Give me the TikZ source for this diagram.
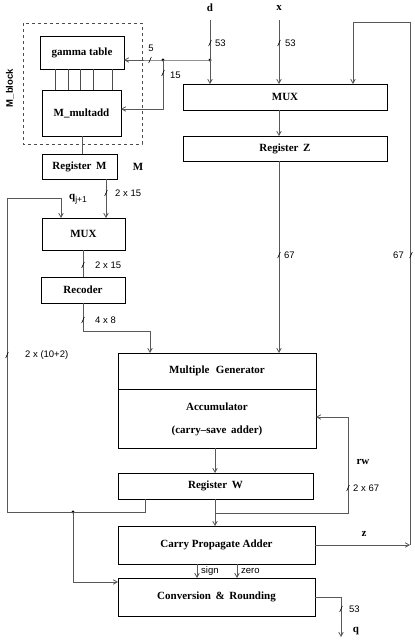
\documentclass[tikz,border=0pt]{standalone}
\usepackage{fontspec}
\setmainfont{Liberation Serif}
\setsansfont{Liberation Sans}
\usetikzlibrary{arrows.meta}
\begin{document}
\begin{tikzpicture}[x=1pt,y=-1pt,
  box/.style={draw=black,line width=1pt,inner sep=0pt,outer sep=0pt,font=\bfseries\fontsize{11}{13}\selectfont},
  conn/.style={draw=black!65,line width=0.8pt},
  arr/.style={conn,-{Straight Barb[length=4pt,width=4.5pt]}},
  lbl/.style={font=\sffamily\fontsize{9.5}{11}\selectfont,inner sep=0pt,anchor=west},
  blbl/.style={font=\bfseries\fontsize{11}{13}\selectfont,inner sep=0pt},
  dotc/.style={circle,fill=black,inner sep=0pt,minimum size=3.2pt}]
\useasboundingbox (0,0) rectangle (415,641);
% M_block
\draw[dashed,black!70,line width=0.7pt] (23,23) rectangle (142,144);
\node[font=\sffamily\bfseries\fontsize{9.5}{11}\selectfont,rotate=90,inner sep=0pt] (mblock) at (10,88) {M\_block};
% boxes
\node[box,minimum width=84pt,minimum height=33pt] (gamma) at (82,52.5) {gamma table};
\node[box,minimum width=79pt,minimum height=46pt] (multadd) at (81.5,113) {M\_multadd};
\node[box,minimum width=75pt,minimum height=25pt] (regM) at (79.5,166.5) {Register\, M};
\node[box,minimum width=204pt,minimum height=26pt] (mux1) at (285,97) {MUX};
\node[box,minimum width=204pt,minimum height=25pt] (regZ) at (285,148.5) {Register\, Z};
\node[box,minimum width=83pt,minimum height=32pt] (mux2) at (83.5,234) {MUX};
\node[box,minimum width=84pt,minimum height=26pt] (recoder) at (83,290) {Recoder};
\node[box,minimum width=198pt,minimum height=36pt] (multgen) at (217,371) {Multiple\,\, Generator};
\node[box,minimum width=198pt,minimum height=59pt] (accum) at (217,418.5) {};
\node[blbl] (acc1) at (217,407) {Accumulator};
\node[blbl] (acc2) at (217,431) {(carry--save\, adder)};
\node[box,minimum width=195pt,minimum height=26pt] (regW) at (215.5,486) {Register\, W};
\node[box,minimum width=197pt,minimum height=38pt] (cpa) at (216.5,545) {Carry Propagate Adder};
\node[box,minimum width=197pt,minimum height=38pt] (conv) at (216.5,597) {Conversion\, \&\, Rounding};
% coordinates
\coordinate (dtop) at (210,20);
\node[dotc] (dd) at (210,60) {};
\node[dotc] (d2) at (163,60) {};
\coordinate (d3) at (163,109);
\coordinate (xtop) at (279,20);
\coordinate (zr) at (410,545);
\coordinate (zt) at (410,22);
\coordinate (zl) at (353,22);
\coordinate (fb1) at (145,512);
\coordinate (fb2) at (7,512);
\coordinate (fb3) at (7,198);
\coordinate (fb4) at (61,198);
\node[dotc] (fbd) at (73,512) {};
\coordinate (fb5) at (73,582);
\coordinate (rc1) at (83,331);
\coordinate (rc2) at (150,331);
\coordinate (rw1) at (215,513);
\coordinate (rw2) at (348,513);
\coordinate (rw3) at (348,417);
\coordinate (o1) at (341,597);
\coordinate (o2) at (341,637);
% labels top
\node[blbl] (dlab) at (210,8) {d};
\node[blbl] (xlab) at (279,8) {x};
\node[blbl] (mlab) at (138,167) {M};
% connectors
\draw[arr] (dtop) -- (dtop |- mux1.north);
\draw[arr] (dd.center) -- (d2.center) -- (gamma.east |- d2);
\draw[arr] (d2.center) -- (d3) -- (multadd.east |- d3);
\draw[arr] (xtop) -- (xtop |- mux1.north);
\draw[arr] (cpa.east |- zr) -- (zr);
\draw[arr] (zr) -- (zt) -- (zl) -- (zl |- mux1.north);
\draw[arr] (279,110) -- (279,136);
\draw[arr] (279,161) -- (279,353);
\foreach \xx in {55,68,80,93,112} \draw[black!70,line width=0.7pt] (\xx,69) -- (\xx,90);
\draw[conn] (82,136) -- (82,154);
\draw[arr] (106,179) -- (106,218);
\draw[arr] (fb1 |- regW.south) -- (fb1) -- (fb2) -- (fb3) -- (fb4) -- (fb4 |- mux2.north);
\draw[arr] (fbd.center) -- (fb5) -- (fb5 -| conv.west);
\draw[conn] (83,250) -- (83,277);
\draw[arr] (rc1 |- recoder.south) -- (rc1) -- (rc2) -- (rc2 |- multgen.north);
\draw[arr] (215,448) -- (215,473);
\draw[arr] (rw1 |- regW.south) -- (215,526);
\draw[arr] (rw1) -- (rw2) -- (rw3) -- (rw3 -| accum.east);
\draw[arr] (197,564) -- (197,578);
\draw[arr] (237,564) -- (237,578);
\draw[arr] (o1 -| conv.east) -- (o1) -- (o2);
% slashes
\foreach \sx/\sy in {150/60,163/73,210/43,279/43,279/255,411/255,106/193,83/265,83/320,7/355,348/488,341/609}
  \draw[black,line width=0.6pt] (\sx-1.3,\sy+3) -- (\sx+1.3,\sy-3);
% bus labels
\node[lbl,anchor=center] (l5) at (151,48) {5};
\node[lbl] (l15) at (170,75) {15};
\node[lbl] (l53a) at (215,43) {53};
\node[lbl] (l53b) at (285,43) {53};
\node[lbl] (l67a) at (284,255) {67};
\node[lbl,anchor=east] (l67b) at (404,255) {67};
\node[lbl] (l215a) at (115,193) {2 x 15};
\node[font=\fontsize{11}{13}\selectfont,inner sep=0pt] (lq) at (78,199) {\textbf{q}\raisebox{-0.7ex}{\sffamily\fontsize{8.5}{10}\selectfont j+1}};
\node[lbl] (l215b) at (95,265) {2 x 15};
\node[lbl] (l48) at (95,320) {4 x 8};
\node[lbl] (l102) at (25,355) {2 x (10+2)};
\node[blbl] (lrw) at (363,462) {rw};
\node[lbl] (l267) at (353,488) {2 x 67};
\node[blbl] (lz) at (364,534) {z};
\node[lbl] (lsign) at (201,571) {sign};
\node[lbl] (lzero) at (241,571) {zero};
\node[lbl] (l53c) at (349,609) {53};
\node[blbl] (lqo) at (356,631) {q};
\end{tikzpicture}
\end{document}
